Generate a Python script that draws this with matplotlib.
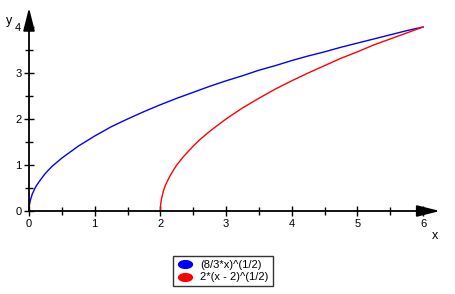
import matplotlib
matplotlib.use('Agg')
from matplotlib import pyplot as plt
from matplotlib.lines import Line2D
from matplotlib.path import Path
from matplotlib.transforms import Affine2D

# values
blue_x = [0, 0.005, 0.02, 0.05, 0.1, 0.15, 0.25, 0.35, 0.5, 0.75, 1, 1.25, 1.5, 1.75, 2, 2.25,
          2.5, 2.75, 3, 3.25, 3.5, 3.75, 4, 4.25, 4.5, 4.75, 5, 5.25, 5.5, 5.75, 6]
blue_y = [0, 0.12, 0.23, 0.37, 0.52, 0.63, 0.82, 0.97, 1.15, 1.41, 1.63, 1.83, 2.0, 2.16, 2.31, 2.45,
          2.58, 2.71, 2.83, 2.94, 3.06, 3.16, 3.27, 3.37, 3.46, 3.56, 3.65, 3.74, 3.83, 3.92, 4.0]
red_x = [2, 2.003, 2.01, 2.02, 2.035, 2.05, 2.075, 2.1, 2.15, 2.2, 2.25, 2.35, 2.5, 2.6, 2.75, 2.85,
         3, 3.25, 3.5, 3.75, 4, 4.25, 4.5, 4.75, 5, 5.25, 5.5, 5.75, 6]
red_y = [0, 0.11, 0.2, 0.28, 0.37, 0.45, 0.55, 0.63, 0.77, 0.89, 1.0, 1.18, 1.41, 1.55, 1.73, 1.84,
         2.0, 2.24, 2.45, 2.65, 2.83, 3.0, 3.16, 3.32, 3.46, 3.61, 3.74, 3.87, 4.0]
labels = ['(8/3*x)^(1/2)', '2*(x - 2)^(1/2)']
x_ticks = [0, 1, 2, 3, 4, 5, 6]
y_ticks = [0, 1, 2, 3, 4]

plt.rcParams['font.family'] = ['Liberation Sans', 'DejaVu Sans']

fig = plt.figure(figsize=(4.56, 2.94), dpi=100)
ax = fig.add_axes([0, 0, 1, 1])
ax.set_xlim(-0.4416, 6.502)
ax.set_ylim(-1.804, 4.587)

ax.plot(blue_x, blue_y, color='#0000ff', lw=1)
ax.plot(red_x, red_y, color='#ff0000', lw=1)

for s in ['top', 'right']:
    ax.spines[s].set_visible(False)
ax.spines['left'].set_position(('data', 0))
ax.spines['bottom'].set_position(('data', 0))
ax.spines['left'].set_bounds(0, 4.3)
ax.spines['bottom'].set_bounds(0, 6.1)
ax.spines['left'].set_linewidth(1.3)
ax.spines['bottom'].set_linewidth(1.3)

ax.set_xticks(x_ticks)
ax.set_yticks(y_ticks)
ax.set_xticks([v + 0.5 for v in x_ticks[:-1]], minor=True)
ax.set_yticks([v + 0.5 for v in y_ticks[:-1]], minor=True)
ax.tick_params(which='both', direction='inout', length=7, width=1, labelsize=8, pad=2)
ax.tick_params(which='minor', length=6)

ax.annotate('', xy=(6.3, 0), xytext=(6.0, 0),
            arrowprops=dict(arrowstyle='-|>,head_length=1.4,head_width=0.35', color='black', lw=1.3))
ax.annotate('', xy=(0, 4.48), xytext=(0, 4.1),
            arrowprops=dict(arrowstyle='-|>,head_length=1.4,head_width=0.35', color='black', lw=1.3))

ax.text(-0.3, 4.0, 'y', fontsize=9, ha='center', va='bottom')
ax.text(6.18, -0.55, 'x', fontsize=9, ha='center', va='center')

ell = Path.unit_circle().transformed(Affine2D().scale(1.8, 1))
handles = [Line2D([], [], ls='none', marker=ell, markersize=10, color='#0000ff'),
           Line2D([], [], ls='none', marker=ell, markersize=10, color='#ff0000')]
leg = fig.legend(handles, labels, loc='center', bbox_to_anchor=(0.489, 0.077),
                 fontsize=8, frameon=True, fancybox=False, edgecolor='black',
                 handlelength=1.5, handletextpad=0.6, borderpad=0.35, labelspacing=0.2,
                 borderaxespad=0)
leg.get_frame().set_linewidth(1)

fig.savefig('out.png', dpi=100)
